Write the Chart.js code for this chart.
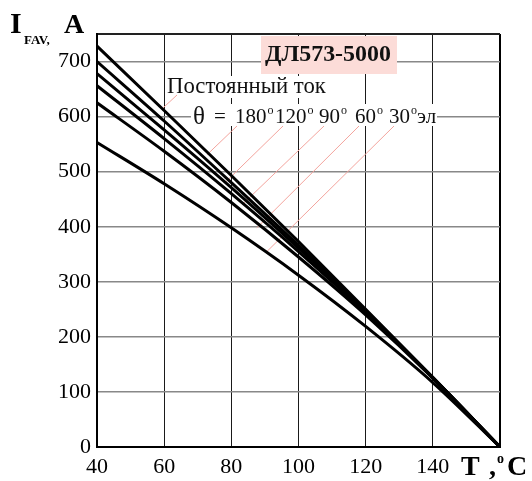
<!DOCTYPE html>
<html>
<head>
<meta charset="utf-8">
<script src="https://cdn.jsdelivr.net/npm/chart.js@4.4.0/dist/chart.umd.min.js"></script>
<style>
html,body{margin:0;padding:0;background:#fff;}
</style>
</head>
<body>
<canvas id="chart" width="532" height="481"></canvas>
<script>
// ambient temperature, degC
var temps = [40, 60, 80, 100, 120, 140, 160];
// average forward current, A
var dcCurrent = [728, 611, 493, 373, 250, 126, 0];
var deg180 = [700, 592, 480, 366, 248, 126, 0];
var deg120 = [678, 576, 471, 361, 247, 126, 0];
var deg90 = [656, 560, 460, 355, 244, 126, 0];
var deg60 = [625, 537, 444, 345, 240, 125, 0];
var deg30 = [553, 478, 398, 312, 219, 117, 0];

var xTicks = [40, 60, 80, 100, 120, 140, 160];
var yTicks = [0, 100, 200, 300, 400, 500, 600, 700, 750];
var xLabels = ['40', '60', '80', '100', '120', '140', ''];
var yLabels = ['0', '100', '200', '300', '400', '500', '600', '700', ''];

var titleText = 'ДЛ573-5000';
var dcText = 'Постоянный ток';
var angleTexts = ['180', '120', '90', '60', '30'];

// where each leader touches its curve (temp, current)
var leaderEnds = [[59.7, 616], [72.8, 531], [78.1, 480], [83.2, 440], [87.6, 398], [90.6, 355]];

var SERIF = '"Liberation Serif", "Times New Roman", serif';

function pts(ys){
	var out = [];
	for(var i = 0; i < temps.length; i++){
		out.push({x: temps[i], y: ys[i]});
	}
	return out;
}

function line(ys){
	return {
		data: pts(ys),
		borderColor: '#000',
		borderWidth: 3,
		pointRadius: 0,
		fill: false,
		cubicInterpolationMode: 'monotone'
	};
}

function fitFont(c, text, weight, target, base){
	c.font = weight + ' ' + base + 'px ' + SERIF;
	var w = c.measureText(text).width;
	return base * target / w;
}

var overlay = {
	id: 'overlay',
	beforeDatasetsDraw: function(chart){
		var c = chart.ctx;
		var xs = chart.scales.x, ys = chart.scales.y;
		c.save();
		c.fillStyle = '#fcdcd8';
		c.fillRect(261, 36, 136, 38);
		c.fillStyle = '#fff';
		c.fillRect(165, 76, 163, 22);
		c.fillRect(191, 104, 246, 22);
		// leaders
		var starts = [[177, 95], [237, 126], [283, 126], [324, 126], [359, 126], [394, 126]];
		c.strokeStyle = '#f3a49d';
		c.lineWidth = 1;
		for(var i = 0; i < starts.length; i++){
			c.beginPath();
			c.moveTo(starts[i][0], starts[i][1]);
			c.lineTo(xs.getPixelForValue(leaderEnds[i][0]), ys.getPixelForValue(leaderEnds[i][1]));
			c.stroke();
		}
		c.restore();
	},
	afterDraw: function(chart){
		var c = chart.ctx;
		c.save();
		c.fillStyle = '#111';
		c.textBaseline = 'alphabetic';
		c.textAlign = 'left';

		// title box text
		var fs = fitFont(c, titleText, 'bold', 126, 24);
		c.font = 'bold ' + fs + 'px ' + SERIF;
		c.fillText(titleText, 265, 61);

		// DC label
		fs = fitFont(c, dcText, 'normal', 159, 20);
		c.font = fs + 'px ' + SERIF;
		c.fillText(dcText, 167, 93);

		// angle line
		c.font = '25px ' + SERIF;
		c.fillText('θ', 193, 124);
		c.font = '21px ' + SERIF;
		c.fillText('=', 214, 123);
		var ax = [235, 275, 319, 355, 389];
		for(var i = 0; i < angleTexts.length; i++){
			c.font = '21px ' + SERIF;
			c.fillText(angleTexts[i], ax[i], 123);
			var w = c.measureText(angleTexts[i]).width;
			c.font = '12px ' + SERIF;
			c.fillText('o', ax[i] + w + 1, 114);
		}
		c.font = '21px ' + SERIF;
		c.fillText('эл', 417, 123);

		// y axis title
		c.fillStyle = '#000';
		c.font = 'bold 30px ' + SERIF;
		c.fillText('I', 10, 33);
		c.font = 'bold 13px ' + SERIF;
		c.fillText('FAV,', 24, 44);
		c.font = 'bold 28px ' + SERIF;
		c.fillText('A', 64, 33);

		// x axis title
		c.font = 'bold 28px ' + SERIF;
		c.fillText('T', 461, 475);
		c.font = 'bold 13px ' + SERIF;
		c.fillText('a', 481, 487);
		c.font = 'bold 28px ' + SERIF;
		c.fillText(',', 489, 475);
		c.font = 'bold 14px ' + SERIF;
		c.fillText('o', 497, 463);
		c.font = 'bold 28px ' + SERIF;
		c.fillText('C', 507, 475);
		c.restore();
	}
};

var ctx = document.getElementById('chart').getContext('2d');
var myChart = new Chart(ctx, {
	type: 'line',
	data: {
		datasets: [line(dcCurrent), line(deg180), line(deg120), line(deg90), line(deg60), line(deg30)]
	},
	options: {
		responsive: false,
		animation: false,
		devicePixelRatio: 1,
		layout: {padding: {left: 0, right: 32, top: 34, bottom: 0}},
		plugins: {legend: {display: false}, tooltip: {enabled: false}},
		scales: {
			x: {
				type: 'linear',
				min: 40,
				max: 160,
				afterFit: function(s){ s.height = 34; },
				afterBuildTicks: function(s){ s.ticks = xTicks.map(function(v){ return {value: v}; }); },
				ticks: {
					color: '#000',
					padding: 7,
					maxRotation: 0,
					autoSkip: false,
					font: {family: SERIF, size: 22},
					callback: function(v){ return xLabels[xTicks.indexOf(v)]; }
				},
				grid: {
					drawTicks: false,
					color: function(c){ return c.tick && c.tick.value === 160 ? '#000' : '#1a1a1a'; },
					lineWidth: function(c){ return c.tick && c.tick.value === 160 ? 2 : 1; }
				},
				border: {display: true, color: '#000', width: 2}
			},
			y: {
				type: 'linear',
				min: 0,
				max: 750,
				afterFit: function(s){ s.width = 97; },
				afterBuildTicks: function(s){ s.ticks = yTicks.map(function(v){ return {value: v}; }); },
				ticks: {
					color: '#000',
					padding: 6,
					autoSkip: false,
					font: {family: SERIF, size: 22},
					callback: function(v){ return yLabels[yTicks.indexOf(v)]; }
				},
				grid: {
					drawTicks: false,
					color: function(c){ return c.tick && c.tick.value === 750 ? '#222' : '#888'; },
					lineWidth: function(c){ return c.tick && c.tick.value === 750 ? 2 : 1.6; }
				},
				border: {display: true, color: '#000', width: 2}
			}
		}
	},
	plugins: [overlay]
});
</script>
</body>
</html>
